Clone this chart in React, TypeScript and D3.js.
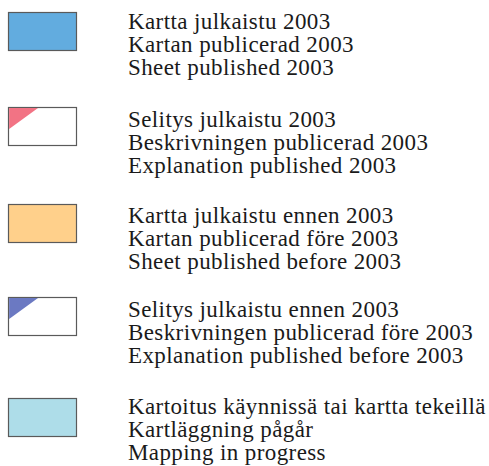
import React, { useEffect, useRef } from "react";
import * as d3 from "d3";

// legend entries (fi / sv / en)
const labelsFi = [
  "Kartta julkaistu 2003",
  "Selitys julkaistu 2003",
  "Kartta julkaistu ennen 2003",
  "Selitys julkaistu ennen 2003",
  "Kartoitus käynnissä tai kartta tekeillä",
];
const labelsSv = [
  "Kartan publicerad 2003",
  "Beskrivningen publicerad 2003",
  "Kartan publicerad före 2003",
  "Beskrivningen publicerad före 2003",
  "Kartläggning pågår",
];
const labelsEn = [
  "Sheet published 2003",
  "Explanation published 2003",
  "Sheet published before 2003",
  "Explanation published before 2003",
  "Mapping in progress",
];
const kinds = ["fill", "corner", "fill", "corner", "fill"];
const colors = ["#62acdf", "#f27384", "#ffd08b", "#6b79c2", "#aedde9"];
const boxTops = [12, 107, 204, 297, 398];
const baselines = [29, 126.5, 223, 316.5, 414];

const App = () => {
  const svgRef = useRef<SVGSVGElement>(null);

  useEffect(() => {
    const width = 489;
    const height = 466;
    const svg = d3.select(svgRef.current).attr("width", width).attr("height", height);
    svg.selectAll("*").remove();

    const boxW = 68;
    const boxH = 38;
    const boxX = 8;
    const textX = 128;

    const rows = labelsFi.map((fi, i) => ({
      lines: [fi, labelsSv[i], labelsEn[i]],
      kind: kinds[i],
      color: colors[i],
      top: boxTops[i],
      base: baselines[i],
    }));

    const g = svg
      .selectAll("g.row")
      .data(rows)
      .enter()
      .append("g")
      .attr("class", "row");

    g.append("rect")
      .attr("x", boxX + 0.5)
      .attr("y", (d) => d.top + 0.5)
      .attr("width", boxW)
      .attr("height", boxH)
      .attr("fill", (d) => (d.kind === "fill" ? d.color : "#fff"))
      .attr("stroke", "#5a5a5a")
      .attr("stroke-width", 1.2);

    g.filter((d) => d.kind === "corner")
      .append("path")
      .attr("d", (d) => {
        const p = d3.path();
        p.moveTo(boxX + 1.1, d.top + 1.1);
        p.lineTo(boxX + 30, d.top + 1.1);
        p.lineTo(boxX + 1.1, d.top + 22);
        p.closePath();
        return p.toString();
      })
      .attr("fill", (d) => d.color);

    g.selectAll("text")
      .data((d) => d.lines.map((l, j) => ({ l, y: d.base + j * 23 })))
      .enter()
      .append("text")
      .attr("x", textX)
      .attr("y", (d) => d.y)
      .attr("font-family", "'Liberation Serif', 'Times New Roman', serif")
      .attr("font-size", 23)
      .attr("letter-spacing", 0.4)
      .attr("fill", "#1a1a1a")
      .text((d) => d.l);
  }, []);

  return (
    <div style={{ position: "absolute", left: 0, top: 0 }}>
      <svg ref={svgRef}></svg>
    </div>
  );
};

export default App;
